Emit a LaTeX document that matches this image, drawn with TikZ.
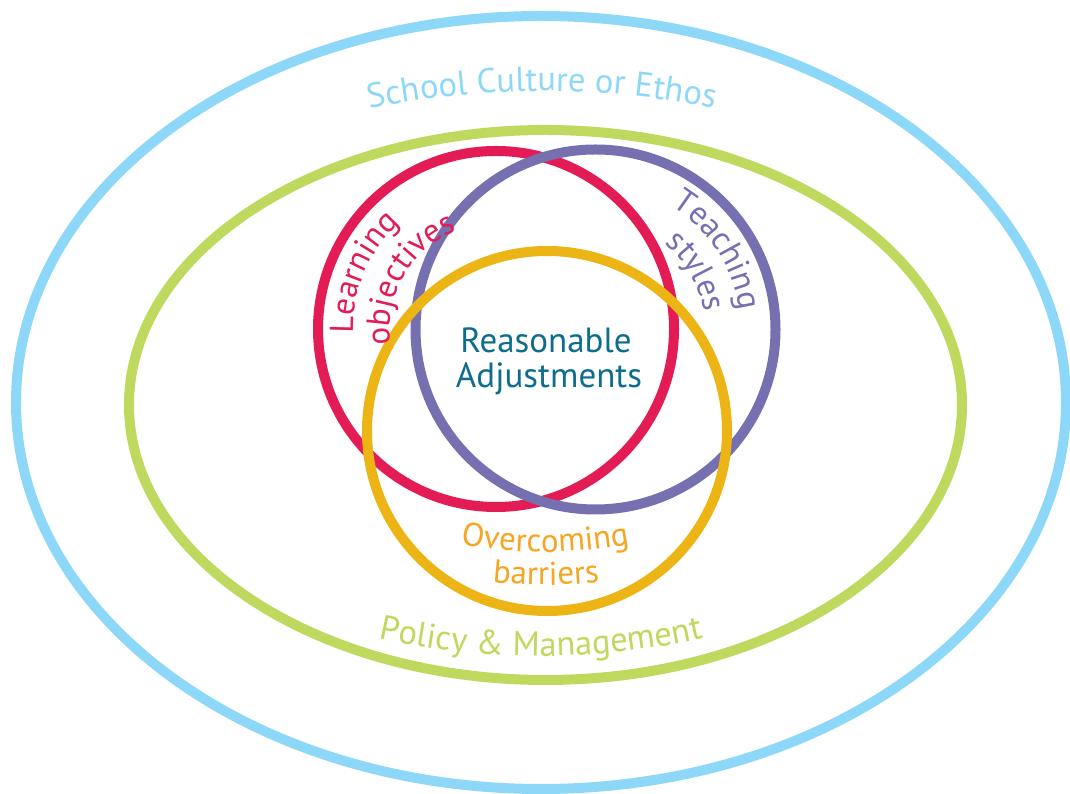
\documentclass[tikz,border=0pt]{standalone}
\usepackage{fontspec}
\usetikzlibrary{decorations.text}
\newfontfamily\labelfont{PT Sans}
\definecolor{skyc}{HTML}{8DD8F8}
\definecolor{limec}{HTML}{BFD95E}
\definecolor{redc}{HTML}{E31C56}
\definecolor{purplec}{HTML}{7670B1}
\definecolor{goldc}{HTML}{EDB415}
\definecolor{orangec}{HTML}{F6A623}
\definecolor{tealc}{HTML}{0D6D8D}
\newcommand{\bigf}{\labelfont\fontsize{34.5}{40}\selectfont}
\newcommand{\midf}{\labelfont\fontsize{35}{40}\selectfont}
\newcommand{\smallf}{\labelfont\fontsize{33}{38}\selectfont}
\begin{document}
\begin{tikzpicture}[x=1pt,y=1pt,
  ring/.style={line width=10pt},
  curved/.style={decorate}]
\useasboundingbox (0,0) rectangle (1070,794);
\fill[white] (0,0) rectangle (1070,794);
% rings
\draw[ring, skyc] (541,391.5) ellipse [x radius=525pt, y radius=386.5pt];
\draw[ring, limec] (545.5,389) ellipse [x radius=416.5pt, y radius=275pt];
\draw[ring, redc] (496,465) circle [radius=178pt];
\draw[ring, purplec] (595.5,464.5) circle [radius=180pt];
\draw[ring, goldc] (547,363) circle [radius=180pt];
% centre text
\node[text=tealc, font=\midf, anchor=base, inner sep=0pt] (ra1) at (546,441) {Reasonable};
\node[text=tealc, font=\midf, anchor=base, inner sep=0pt] (ra2) at (549,406) {Adjustments};
% curved labels
\path[curved, decoration={text along path, text align=center,
  text={|\bigf\color{skyc}|School Culture or Ethos}}]
  (542,-147) ++(110:850pt) arc[start angle=110, end angle=70, radius=850pt];
\path[curved, decoration={text along path, text align=center,
  text={|\bigf\color{limec}|Policy {\&} Management}}]
  (541,888) ++(250:750pt) arc[start angle=250, end angle=290, radius=750pt];
\path[curved, decoration={text along path, text align=center,
  text={|\smallf\color{orangec}|Overcoming}}]
  (545,692) ++(250:450pt) arc[start angle=250, end angle=290, radius=450pt];
\path[curved, decoration={text along path, text align=center,
  text={|\smallf\color{orangec}|barriers}}]
  (546,692) ++(250:483pt) arc[start angle=250, end angle=290, radius=483pt];
\path[curved, decoration={text along path, text align=center,
  text={|\smallf\color{redc}|Learning}}]
  (496,465) ++(197:143pt) arc[start angle=197, end angle=117, radius=143pt];
\path[curved, decoration={text along path, text align=center,
  text={|\smallf\color{redc}|objectives}}]
  (496,465) ++(200:106pt) arc[start angle=200, end angle=100, radius=106pt];
\path[curved, decoration={text along path, text align=center,
  text={|\smallf\color{purplec}|Teaching}}]
  (595.5,464.5) ++(78:145pt) arc[start angle=78, end angle=-12, radius=145pt];
\path[curved, decoration={text along path, text align=center,
  text={|\smallf\color{purplec}|styles}}]
  (595.5,464.5) ++(70:110pt) arc[start angle=70, end angle=-10, radius=110pt];
\end{tikzpicture}
\end{document}
